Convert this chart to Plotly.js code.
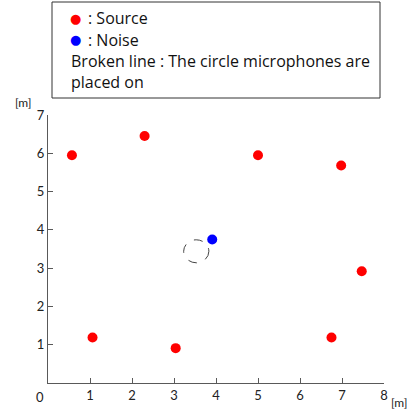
<!DOCTYPE html>
<html>
<head>
<meta charset="utf-8">
<script src="https://cdn.plot.ly/plotly-3.0.1.min.js"></script>
<style>html,body{margin:0;padding:0;background:#fff;}#chart{width:409px;height:414px;}</style>
</head>
<body>
<div id="chart"></div>
<script>
// Source positions [m]
const sourceX = [0.57, 2.30, 5.00, 6.98, 7.47, 6.75, 3.04, 1.06];
const sourceY = [5.95, 6.45, 5.95, 5.68, 2.92, 1.19, 0.91, 1.19];
// Noise position [m]
const noiseX = [3.91];
const noiseY = [3.75];
// Microphone circle (center, radius) [m]
const micCenter = [3.53, 3.44];
const micRadius = 0.30;
const tickVals = [1, 2, 3, 4, 5, 6, 7, 8];
const yTickVals = [1, 2, 3, 4, 5, 6, 7];
const legendLines = [": Source", ": Noise", "Broken line : The circle microphones are", "placed on"];
const legendDotColors = ["#ff0000", "#0000ff", null, null];

const font = "Lato, 'Open Sans', sans-serif";
const legFont = "'Open Sans', sans-serif";
const axisColor = "#595959";

const traces = [
  {x: sourceX, y: sourceY, type: "scatter", mode: "markers",
   marker: {color: "#ff0000", size: 10}, hoverinfo: "x+y"},
  {x: noiseX, y: noiseY, type: "scatter", mode: "markers",
   marker: {color: "#0000ff", size: 10}, hoverinfo: "x+y"}
];

const plotH = 268, plotW = 336, mB = 31, mL = 48;
const py = (pix) => (414 - mB - pix) / plotH;
const px = (pix) => (pix - mL) / plotW;

const annotations = [
  {xref: "paper", yref: "paper", x: 0, y: 0, xshift: -8, yshift: -4,
   xanchor: "center", yanchor: "top", showarrow: false, text: "0",
   font: {family: font, size: 13, color: "#222"}},
  {xref: "paper", yref: "paper", x: 0, y: 1, xshift: -14, yshift: 3,
   xanchor: "right", yanchor: "bottom", showarrow: false, text: "[m]",
   font: {family: font, size: 12, color: "#222"}},
  {xref: "paper", yref: "paper", x: 1, y: 0, xshift: 5, yshift: -10,
   xanchor: "left", yanchor: "top", showarrow: false, text: "[m]",
   font: {family: font, size: 12, color: "#222"}}
];
const lineY = [18, 39.5, 61, 82];
legendLines.forEach((t, i) => {
  annotations.push({xref: "paper", yref: "paper",
    x: px(legendDotColors[i] ? 86 : 69), y: py(lineY[i]),
    xanchor: "left", yanchor: "middle", showarrow: false, text: t,
    font: {family: legFont, size: 16, color: "#111"}});
  if (legendDotColors[i]) {
    annotations.push({xref: "paper", yref: "paper", x: px(75), y: py(lineY[i]),
      xanchor: "center", yanchor: "middle", showarrow: false, text: "●",
      font: {family: "DejaVu Sans", size: 13, color: legendDotColors[i]}});
  }
});

const layout = {
  width: 409, height: 414,
  margin: {l: mL, r: 25, t: 115, b: mB},
  showlegend: false,
  paper_bgcolor: "#fff", plot_bgcolor: "#fff",
  font: {family: font, size: 13, color: "#222"},
  xaxis: {range: [0, 8], tickvals: tickVals, ticks: "inside", ticklen: 5,
          tickcolor: axisColor, showline: true, linecolor: axisColor, linewidth: 1.2,
          showgrid: false, zeroline: false, fixedrange: true,
          tickfont: {family: font, size: 13, color: "#222"}},
  yaxis: {range: [0, 7], tickvals: yTickVals, ticks: "inside", ticklen: 5,
          tickcolor: axisColor, showline: true, linecolor: axisColor, linewidth: 1.2,
          showgrid: false, zeroline: false, fixedrange: true,
          tickfont: {family: font, size: 13, color: "#222"}},
  shapes: [
    {type: "circle", xref: "x", yref: "y",
     x0: micCenter[0] - micRadius, x1: micCenter[0] + micRadius,
     y0: micCenter[1] - micRadius, y1: micCenter[1] + micRadius,
     line: {color: "#444", width: 1, dash: "dash"}},
    {type: "rect", xref: "paper", yref: "paper",
     x0: px(52), x1: px(380), y0: py(98), y1: py(2),
     line: {color: "#333", width: 1}, fillcolor: "rgba(0,0,0,0)"}
  ],
  annotations: annotations
};

Plotly.newPlot("chart", traces, layout, {displayModeBar: false, staticPlot: true});
</script>
</body>
</html>
